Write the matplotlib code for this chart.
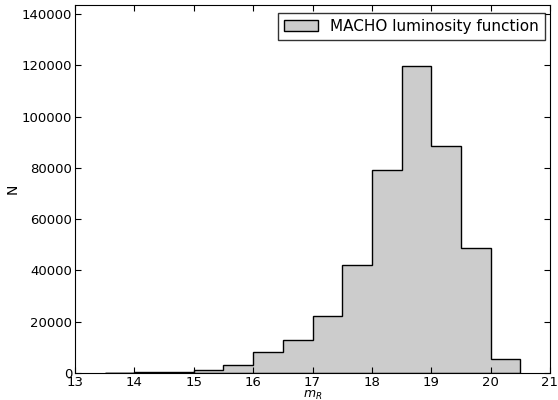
import numpy as np
import matplotlib
matplotlib.use("Agg")
import matplotlib.pyplot as plt

# bordes de los bins en magnitud R
bordes = np.arange(13.5, 20.51, 0.5)
# conteos por bin
conteos = [100, 200, 500, 1200, 3100, 8200, 12900, 22400, 42000,
           79300, 119600, 88600, 48600, 5500]

fig = plt.figure(figsize=(5.58, 4.0), dpi=100)
ax = fig.add_axes([75/558, 27/400, 475/558, 368/400])

ax.hist(bordes[:-1], bins=bordes, weights=conteos, histtype='stepfilled',
        facecolor='#cccccc', edgecolor='black', linewidth=1.0,
        label='MACHO luminosity function')

ax.set_xlim(13, 21)
ax.set_ylim(0, 1.2 * max(conteos))
ax.set_xticks(range(13, 22))
ax.set_yticks(range(0, 140001, 20000))
ax.tick_params(direction='in', top=True, right=True, labelsize=9.5,
               length=4, pad=2)
ax.set_xlabel('$m_R$', fontsize=9, labelpad=0)
ax.set_ylabel('N', fontsize=10)
ax.yaxis.set_label_coords(-55/475, 0.5)
ax.legend(loc='upper right', bbox_to_anchor=(470/475, 360/368),
          borderaxespad=0, fancybox=False, edgecolor='black',
          fontsize=11, handlelength=2.2)

fig.savefig('out.png', dpi=100)
